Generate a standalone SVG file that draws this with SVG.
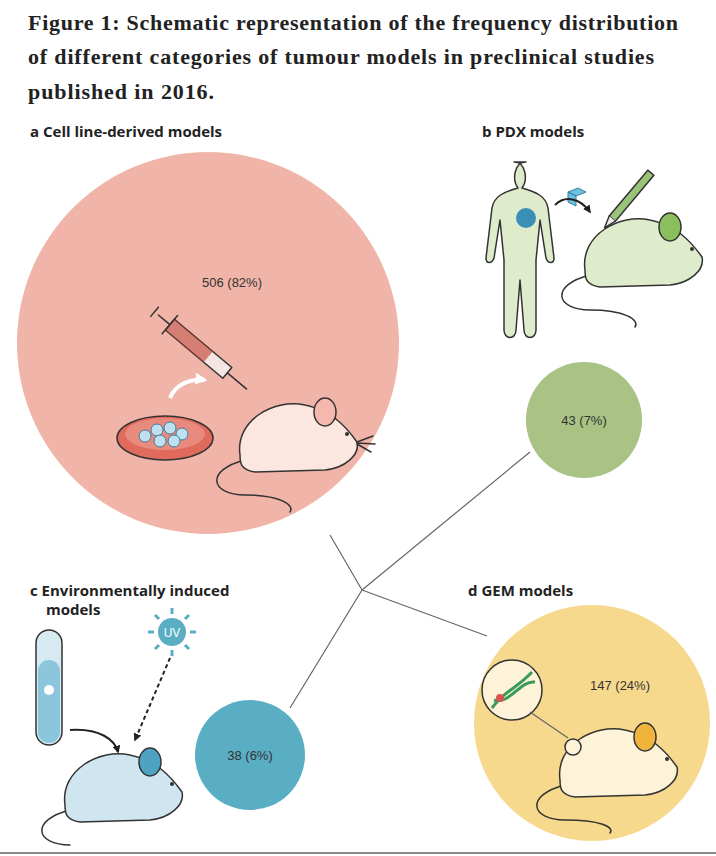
<svg xmlns="http://www.w3.org/2000/svg" width="716" height="856" viewBox="0 0 716 856">
<style>
.title{font-family:"Liberation Serif",serif;font-weight:bold;font-size:22px;fill:#222}
.hd{font-family:"Open Sans","Liberation Sans",sans-serif;font-weight:bold;font-size:15px;fill:#222}
.val{font-family:"Liberation Sans",sans-serif;font-size:13px;fill:#333}
.ln{stroke:#666;stroke-width:1.2;fill:none}
.ol{stroke:#333;stroke-width:1.5;stroke-linejoin:round;stroke-linecap:round}
</style>
<defs>
<marker id="ah" viewBox="0 0 10 10" refX="8" refY="5" markerWidth="4" markerHeight="4" orient="auto"><path d="M0,0L10,5L0,10z" fill="#222"/></marker>
<marker id="ahw" viewBox="0 0 10 10" refX="8" refY="5" markerWidth="3" markerHeight="3" orient="auto"><path d="M0,0L10,5L0,10z" fill="#fff"/></marker>
</defs>
<rect width="716" height="856" fill="#fff"/>
<text class="title" x="28" y="30" textLength="650">Figure 1: Schematic representation of the frequency distribution</text>
<text class="title" x="28" y="64" textLength="626">of different categories of tumour models in preclinical studies</text>
<text class="title" x="28" y="99" textLength="186">published in 2016.</text>
<g id="connectors">
<path class="ln" d="M330,535L362,590M362,590L530,452M362,590L290,708M362,590L487,636"/>
</g>
<g id="node-a">
<text class="hd" x="30" y="137">a  Cell line-derived models</text>
<circle cx="208" cy="343" r="191" fill="#f0b4a8"/>
<text class="val" x="232" y="287" text-anchor="middle">506 (82%)</text>
<g transform="translate(212,360) rotate(40)">
<rect x="-55" y="-7" width="75" height="14" fill="#f4e6e2" class="ol"/>
<rect x="-55" y="-7" width="50" height="14" fill="#c0392b" opacity="0.6"/>
<path class="ol" d="M-55,-12V12M-70,0H-55M-75,-6V6M20,0H45" fill="none"/>
</g>
<path d="M170,398C175,385 190,378 205,380" fill="none" stroke="#fff" stroke-width="4" marker-end="url(#ahw)"/>
<ellipse cx="165" cy="438" rx="48" ry="22" fill="#e06a5c" class="ol"/>
<ellipse cx="165" cy="434" rx="40" ry="16" fill="#e98a7e"/>
<g fill="#bfe0ee" stroke="#3a7fa0" stroke-width="1">
<circle cx="145" cy="436" r="6"/><circle cx="157" cy="430" r="6"/><circle cx="170" cy="428" r="6"/><circle cx="182" cy="434" r="6"/><circle cx="160" cy="441" r="6"/><circle cx="174" cy="441" r="6"/>
</g>
<g transform="translate(285,440)">
<path class="ol" fill="none" d="M-40,20C-80,30 -75,55 -40,55C-5,55 10,65 5,72"/>
<path class="ol" fill="#fbe7df" d="M-45,15C-50,-20 -10,-42 20,-35C45,-30 60,-15 72,2C75,15 60,28 40,30L-30,32C-45,30 -45,22 -45,15Z"/>
<ellipse class="ol" cx="40" cy="-28" rx="11" ry="14" fill="#f4b8ae"/>
<circle cx="62" cy="-6" r="2" fill="#333"/>
<path class="ol" fill="none" d="M72,2L88,-4M72,3L90,4M72,4L86,12"/>
</g>
</g>
<g id="node-b">
<text class="hd" x="482" y="137">b  PDX models</text>
<path class="ol" fill="#dfeccc" d="M526,162c-12,0-14,18-8,26c-14,4-24,8-26,20l-6,50c0,6 6,6 8,0l6-38l4,40l0,70c0,10 12,10 12,0l4-50l4,50c0,10 12,10 12,0l0-70l4-40l6,38c2,6 8,6 8,0l-6-50c-2-12-12-16-26-20c6-8 4-26-8-26z"/>
<circle cx="526" cy="218" r="10" fill="#3a8fb7"/>
<path d="M568,192l10-4l8,4l-10,4z M568,192v10l8,4v-10z" fill="#6cc0e0" stroke="#3a7fa0"/>
<path d="M555,205C565,195 580,198 590,212" fill="none" stroke="#222" stroke-width="2" marker-end="url(#ah)"/>
<g transform="translate(638,188) rotate(-50)"><rect x="-40" y="-4" width="60" height="8" fill="#9ac47a" class="ol"/><path class="ol" d="M-40,-4L-52,0L-40,4" fill="#eee"/></g>
<g transform="translate(630,255)">
<path class="ol" fill="none" d="M-40,20C-80,30 -75,55 -40,55C-5,55 10,65 5,72"/>
<path class="ol" fill="#dfeccc" d="M-45,15C-50,-20 -10,-42 20,-35C45,-30 60,-15 72,2C75,15 60,28 40,30L-30,32C-45,30 -45,22 -45,15Z"/>
<ellipse class="ol" cx="40" cy="-28" rx="11" ry="14" fill="#8bbf5e"/>
<circle cx="62" cy="-6" r="2" fill="#333"/>
</g>
<circle cx="584" cy="420" r="58" fill="#a8c383"/>
<text class="val" x="584" y="425" text-anchor="middle">43 (7%)</text>
</g>
<g id="node-c">
<text class="hd" x="30" y="596">c  Environmentally induced</text>
<text class="hd" x="46" y="615">models</text>
<rect x="36" y="630" width="26" height="115" rx="13" fill="#d7eaf2" class="ol"/>
<rect x="38" y="660" width="22" height="83" rx="11" fill="#8cc6dc"/>
<circle cx="49" cy="690" r="5" fill="#fff"/>
<circle cx="172" cy="632" r="14" fill="#5aaec4"/>
<text x="172" y="637" text-anchor="middle" font-family="Liberation Sans,sans-serif" font-size="12" fill="#fff">UV</text>
<path d="M172,608v6M172,650v6M148,632h6M190,632h6M155,615l4,4M185,645l4,4M155,649l4-4M185,619l4-4" stroke="#5aaec4" stroke-width="3"/>
<path d="M170,658L135,740" stroke="#222" stroke-width="2" stroke-dasharray="4,3" marker-end="url(#ah)"/>
<path d="M70,730C100,728 115,740 118,752" fill="none" stroke="#222" stroke-width="2" marker-end="url(#ah)"/>
<g transform="translate(110,790)">
<path class="ol" fill="none" d="M-40,20C-80,30 -75,55 -40,55"/>
<path class="ol" fill="#cfe6f1" d="M-45,15C-50,-20 -10,-42 20,-35C45,-30 60,-15 72,2C75,15 60,28 40,30L-30,32C-45,30 -45,22 -45,15Z"/>
<ellipse class="ol" cx="40" cy="-28" rx="11" ry="14" fill="#4fa3c2"/>
<circle cx="62" cy="-6" r="2" fill="#333"/>
</g>
<circle cx="250" cy="755" r="55" fill="#5aaec4"/>
<text class="val" x="250" y="760" text-anchor="middle">38 (6%)</text>
</g>
<g id="node-d">
<text class="hd" x="468" y="596">d  GEM models</text>
<circle cx="592" cy="723" r="118" fill="#f7d98e"/>
<text class="val" x="620" y="690" text-anchor="middle">147 (24%)</text>
<circle cx="512" cy="690" r="30" fill="#fdf3d8" class="ol"/>
<path d="M492,708C505,690 515,690 532,672M494,700C510,705 520,680 535,682" fill="none" stroke="#3a9a5a" stroke-width="3"/>
<circle cx="500" cy="698" r="4" fill="#d9534f"/>
<path class="ln" d="M530,712L568,738"/>
<g transform="translate(605,765)">
<path class="ol" fill="none" d="M-40,20C-80,30 -75,55 -40,55C-5,55 10,62 5,68"/>
<path class="ol" fill="#fdf3d8" d="M-45,15C-50,-20 -10,-42 20,-35C45,-30 60,-15 72,2C75,15 60,28 40,30L-30,32C-45,30 -45,22 -45,15Z"/>
<ellipse class="ol" cx="40" cy="-28" rx="11" ry="14" fill="#f0b43c"/>
<circle cx="-32" cy="-18" r="8" fill="#fdf3d8" class="ol"/>
<circle cx="62" cy="-6" r="2" fill="#333"/>
</g>
</g>
<line x1="0" y1="853" x2="716" y2="853" stroke="#888" stroke-width="2"/>
</svg>
